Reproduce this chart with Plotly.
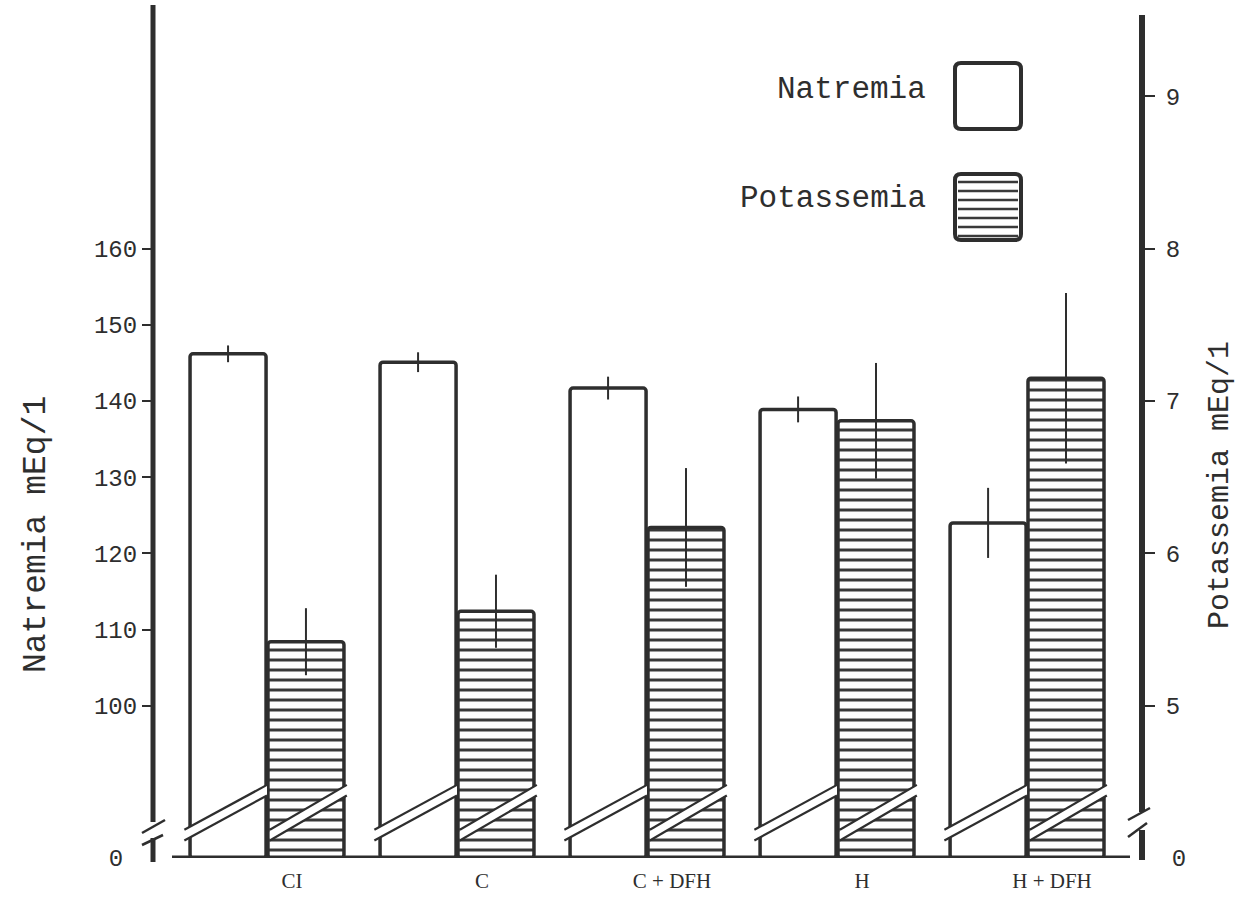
import plotly.graph_objects as go

# ---- data -------------------------------------------------------------
groups = ["CI", "C", "C + DFH", "H", "H + DFH"]
natremia = [146.2, 145.1, 141.7, 138.9, 124.0]        # mEq/l
natremia_err = [1.1, 1.3, 1.5, 1.7, 4.6]
potassemia = [5.42, 5.62, 6.17, 6.87, 7.15]           # mEq/l
potassemia_err = [0.22, 0.24, 0.39, 0.38, 0.56]

na_ticks = [100, 110, 120, 130, 140, 150, 160]
k_ticks = [5, 6, 7, 8, 9]

# ---- broken-axis geometry ----------------------------------------------
# Both scales start at a broken zero: the "0" is drawn where 80 (Na) / 4 (K)
# would sit, and 20 mEq/l of Na spans the same height as 1 mEq/l of K.
NA_ZERO, K_ZERO = 80, 4
NA_TOP = 192.0
K_TOP = K_ZERO + (NA_TOP - NA_ZERO) / 20

W, H = 1242, 914
ML, MR, MT, MB = 153, 100, 5, 56
PW, PH = W - ML - MR, H - MT - MB

INK = "#2e2e2e"
MONO = "Liberation Mono, Courier New, monospace"
SERIF = "Liberation Serif, Times New Roman, serif"


def px(x):
    """pixel column -> paper x"""
    return (x - ML) / PW


def py(y):
    """pixel row -> paper y"""
    return (H - MB - y) / PH


pos = list(range(len(groups)))
BAR_W = 0.40

fig = go.Figure()

fig.add_trace(go.Bar(
    x=pos, y=[v - NA_ZERO for v in natremia], base=NA_ZERO,
    width=BAR_W, offset=-BAR_W - 0.01,
    marker=dict(color="white", line=dict(color=INK, width=3.5), cornerradius=3),
    error_y=dict(type="data", array=natremia_err, thickness=2, width=0, color=INK),
    name="Natremia", showlegend=False, yaxis="y",
))

fig.add_trace(go.Bar(
    x=pos, y=[v - K_ZERO for v in potassemia], base=K_ZERO,
    width=BAR_W, offset=0.0,
    marker=dict(color="white", line=dict(color=INK, width=3.5), cornerradius=3,
                pattern=dict(shape="-", size=10, solidity=0.3,
                             fgcolor="#3a3a3a", bgcolor="white", fillmode="replace")),
    error_y=dict(type="data", array=potassemia_err, thickness=2, width=0, color=INK),
    name="Potassemia", showlegend=False, yaxis="y2",
))

shapes = []

# axis lines with their breaks
shapes += [
    dict(type="line", xref="paper", yref="paper", x0=0, x1=0, y0=py(862), y1=py(838),
         line=dict(color=INK, width=5)),
    dict(type="line", xref="paper", yref="paper", x0=0, x1=0, y0=py(822), y1=1,
         line=dict(color=INK, width=5)),
    dict(type="line", xref="paper", yref="paper", x0=px(142), x1=px(165), y0=py(833), y1=py(820),
         line=dict(color=INK, width=2.5)),
    dict(type="line", xref="paper", yref="paper", x0=px(142), x1=px(163), y0=py(845), y1=py(835),
         line=dict(color=INK, width=2.5)),
    dict(type="line", xref="paper", yref="paper", x0=1, x1=1, y0=py(860), y1=py(830),
         line=dict(color=INK, width=6)),
    dict(type="line", xref="paper", yref="paper", x0=1, x1=1, y0=py(812), y1=py(15),
         line=dict(color=INK, width=6)),
    dict(type="line", xref="paper", yref="paper", x0=px(1128), x1=px(1150), y0=py(820), y1=py(808),
         line=dict(color=INK, width=2.5)),
    dict(type="line", xref="paper", yref="paper", x0=px(1128), x1=px(1147), y0=py(837), y1=py(823),
         line=dict(color=INK, width=2.5)),
    dict(type="line", xref="paper", yref="y", x0=px(172), x1=px(1130), y0=NA_ZERO, y1=NA_ZERO,
         line=dict(color=INK, width=5)),
]

# diagonal break marks across every bar
BAND_LO, BAND_HI, BAND_H = 82.3, 88.2, 1.4
for i in pos:
    for x0, x1 in ((i - BAR_W - 0.04, i - 0.005), (i + 0.01, i + BAR_W + 0.015)):
        shapes.append(dict(
            type="path", xref="x", yref="y", layer="above",
            path=f"M{x0},{BAND_LO} L{x1},{BAND_HI} L{x1},{BAND_HI + BAND_H} L{x0},{BAND_LO + BAND_H} Z",
            fillcolor="white", line=dict(width=0)))
        for dy in (0, BAND_H):
            shapes.append(dict(type="line", xref="x", yref="y", layer="above",
                               x0=x0, x1=x1, y0=BAND_LO + dy, y1=BAND_HI + dy,
                               line=dict(color=INK, width=2.2)))


def rounded_box(x0, y0, x1, y1, r=6):
    """closed path for a rectangle with rounded corners, in paper units"""
    rx, ry = r / PW, r / PH
    X0, X1, Y0, Y1 = px(x0), px(x1), py(y1), py(y0)
    return (f"M{X0 + rx},{Y0} L{X1 - rx},{Y0} Q{X1},{Y0} {X1},{Y0 + ry} "
            f"L{X1},{Y1 - ry} Q{X1},{Y1} {X1 - rx},{Y1} L{X0 + rx},{Y1} "
            f"Q{X0},{Y1} {X0},{Y1 - ry} L{X0},{Y0 + ry} Q{X0},{Y0} {X0 + rx},{Y0} Z")


# key boxes
shapes.append(dict(type="path", xref="paper", yref="paper",
                   path=rounded_box(955, 63, 1021, 129),
                   line=dict(color=INK, width=4), fillcolor="white"))
shapes.append(dict(type="path", xref="paper", yref="paper",
                   path=rounded_box(955, 174, 1021, 240),
                   line=dict(color=INK, width=4), fillcolor="white"))
for k in range(7):
    yy = 182 + 9 * k
    shapes.append(dict(type="line", xref="paper", yref="paper",
                       x0=px(958), x1=px(1018), y0=py(yy), y1=py(yy),
                       line=dict(color="#3a3a3a", width=2.5)))

annotations = [
    dict(text="Natremia", xref="paper", yref="paper", x=px(928), y=py(90),
         xanchor="right", yanchor="middle", showarrow=False,
         font=dict(family=MONO, size=31, color=INK)),
    dict(text="Potassemia", xref="paper", yref="paper", x=px(928), y=py(199),
         xanchor="right", yanchor="middle", showarrow=False,
         font=dict(family=MONO, size=31, color=INK)),
    dict(text="Natremia mEq/1", xref="paper", yref="paper", x=px(36), y=py(535),
         xanchor="center", yanchor="middle", textangle=-90, showarrow=False,
         font=dict(family=MONO, size=33, color=INK)),
    dict(text="Potassemia mEq/1", xref="paper", yref="paper", x=px(1220), y=py(485),
         xanchor="center", yanchor="middle", textangle=-90, showarrow=False,
         font=dict(family=MONO, size=30, color=INK)),
]

tick_font = dict(family=MONO, size=24, color=INK)

fig.update_layout(
    width=W, height=H,
    margin=dict(l=ML, r=MR, t=MT, b=MB),
    paper_bgcolor="white", plot_bgcolor="white",
    barmode="overlay",
    showlegend=False,
    shapes=shapes,
    annotations=annotations,
    xaxis=dict(
        range=[-0.605, 4.6], tickvals=pos, ticktext=groups,
        showline=False, showgrid=False, zeroline=False, ticks="",
        tickfont=dict(family=SERIF, size=21, color=INK),
        ticklabelstandoff=8, ticklabelshift=24,
    ),
    yaxis=dict(
        range=[NA_ZERO, NA_TOP], tickvals=na_ticks, ticktext=[str(t) for t in na_ticks],
        showline=False, showgrid=False, zeroline=False,
        ticks="outside", ticklen=10, tickwidth=2, tickcolor=INK,
        tickfont=tick_font,
    ),
    yaxis2=dict(
        range=[K_ZERO, K_TOP], overlaying="y", side="right",
        tickvals=k_ticks, ticktext=[str(t) for t in k_ticks],
        showline=False, showgrid=False, zeroline=False,
        ticks="outside", ticklen=12, tickwidth=2, tickcolor=INK,
        tickfont=tick_font, ticklabelstandoff=6,
    ),
    # broken-zero labels, drawn without a tick mark
    yaxis3=dict(
        range=[NA_ZERO, NA_TOP], overlaying="y", side="left",
        tickvals=[NA_ZERO], ticktext=["0\u00a0\u00a0"], ticks="",
        showline=False, showgrid=False, zeroline=False, tickfont=tick_font,
    ),
    yaxis4=dict(
        range=[K_ZERO, K_TOP], overlaying="y", side="right",
        tickvals=[K_ZERO], ticktext=["\u00a0\u00a00"], ticks="",
        showline=False, showgrid=False, zeroline=False, tickfont=tick_font,
    ),
)

# empty traces so the zero-label axes are rendered
fig.add_trace(go.Scatter(x=[None], y=[None], yaxis="y3", showlegend=False, hoverinfo="skip"))
fig.add_trace(go.Scatter(x=[None], y=[None], yaxis="y4", showlegend=False, hoverinfo="skip"))

fig.write_html("out.html")
